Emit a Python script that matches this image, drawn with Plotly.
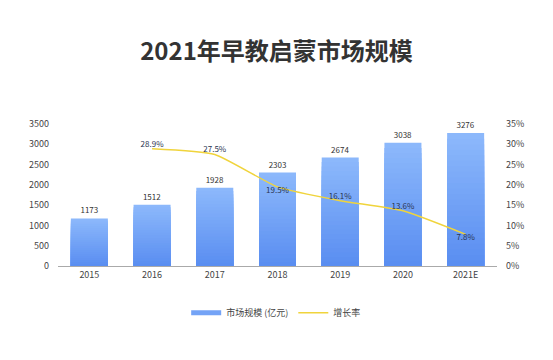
import plotly.graph_objects as go

categories = ["2015", "2016", "2017", "2018", "2019", "2020", "2021E"]
market_size = [1173, 1512, 1928, 2303, 2674, 3038, 3276]
growth_years = ["2016", "2017", "2018", "2019", "2020", "2021E"]
growth_rate = [0.289, 0.275, 0.195, 0.161, 0.136, 0.078]
growth_labels = ["28.9%", "27.5%", "19.5%", "16.1%", "13.6%", "7.8%"]
growth_label_pos = ["top center", "top center", "bottom center", "top center", "top center", "bottom center"]

FONT = "Noto Sans CJK SC, Noto Sans, sans-serif"
light = (0x8c, 0xb8, 0xfb)
dark = (0x5a, 0x8e, 0xf1)
N = 24

fig = go.Figure()
for k in range(N):
    f = 1 - k / N
    t = k / (N - 1)
    c = tuple(round(light[i] + (dark[i] - light[i]) * t) for i in range(3))
    fig.add_trace(go.Bar(
        x=categories, y=[v * f for v in market_size],
        marker=dict(color="rgb(%d,%d,%d)" % c, line=dict(width=0)),
        width=0.59,
        showlegend=False,
        text=[str(v) for v in market_size] if k == 0 else None,
        textposition="outside" if k == 0 else None,
        textfont=dict(size=8, color="#333", family=FONT),
        cliponaxis=False,
        hoverinfo="skip" if k else "x+y",
    ))

# legend entry for the bars (wide swatch like the reference)
fig.add_trace(go.Scatter(
    x=[None], y=[None], mode="lines",
    line=dict(color="#74a3f6", width=5),
    name="市场规模 (亿元)", legendrank=1,
))

fig.add_trace(go.Scatter(
    x=growth_years, y=growth_rate, yaxis="y2",
    mode="lines+text",
    line=dict(color="#f0d43c", width=1.5, shape="spline", smoothing=0.5),
    text=growth_labels, textposition=growth_label_pos,
    textfont=dict(size=8, color="#2a3550", family=FONT),
    name="增长率", legendrank=2, cliponaxis=False,
))

fig.update_layout(
    width=553, height=360,
    margin=dict(l=58, r=56, t=124, b=94, autoexpand=False),
    paper_bgcolor="white", plot_bgcolor="white",
    barmode="overlay",
    font=dict(family=FONT, color="#444", size=9),
    title=dict(text="<b>2021年早教启蒙市场规模</b>", x=0.5, xanchor="center",
               y=1 - 52 / 360, yanchor="middle", yref="container",
               font=dict(size=24, color="#333", family=FONT)),
    xaxis=dict(type="category", showgrid=False, showline=True, linecolor="#aaa",
               linewidth=1, ticks="", tickfont=dict(size=9, color="#444")),
    yaxis=dict(range=[0, 3500], dtick=500, showgrid=False, zeroline=False,
               showline=False, ticks="", tickfont=dict(size=9, color="#444"),
               ticklabelstandoff=8),
    yaxis2=dict(range=[0, 0.35], dtick=0.05, tickformat=".0%", overlaying="y",
                side="right", showgrid=False, zeroline=False, showline=False,
                ticks="", tickfont=dict(size=9, color="#444"), ticklabelstandoff=8),
    legend=dict(orientation="h", x=0.497, xanchor="center", y=-0.33, yanchor="middle",
                font=dict(size=9, color="#444"), itemwidth=30,
                traceorder="normal"),
    showlegend=True,
)

fig.write_html("out.html", config={"displayModeBar": False},
               post_script="document.body.style.margin='0';")
